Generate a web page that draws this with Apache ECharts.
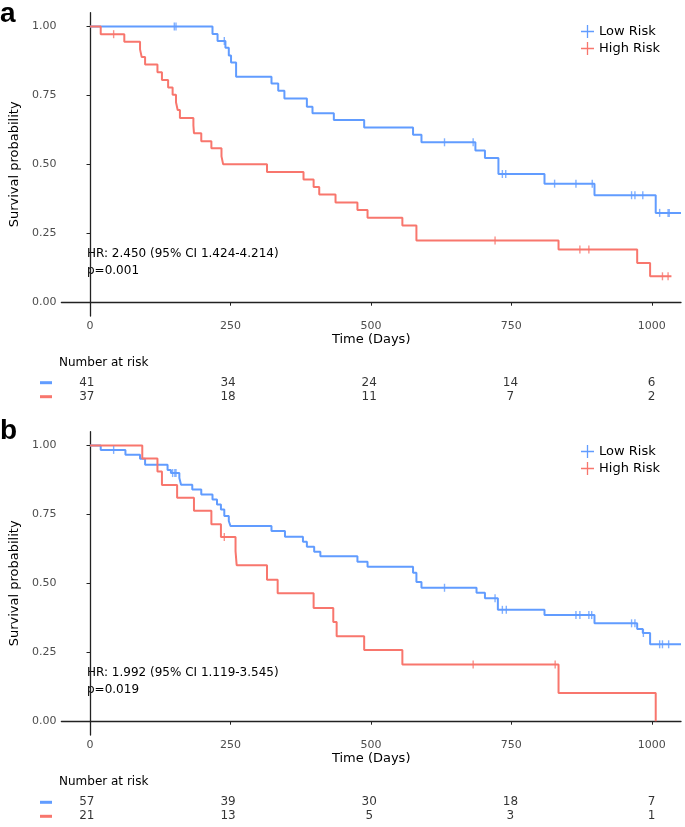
<!DOCTYPE html>
<html>
<head>
<meta charset="utf-8">
<script src="https://cdn.jsdelivr.net/npm/echarts@6/dist/echarts.min.js"></script>
<style>html,body{margin:0;padding:0;background:#fff;}#c{width:685px;height:827px;}</style>
</head>
<body>
<div id="c"></div>
<script>
// ---------- Data ----------
// Panel a
const aLowTime  = [0, 218, 227, 241, 247, 251, 260, 323, 335, 346, 386, 396, 434, 488, 575, 590, 686, 703, 727, 809, 898, 1007, 1052];
const aLowSurv  = [1.0, 0.973, 0.947, 0.923, 0.895, 0.869, 0.818, 0.793, 0.767, 0.739, 0.709, 0.685, 0.661, 0.634, 0.607, 0.580, 0.550, 0.523, 0.465, 0.430, 0.388, 0.324, 0.324];
const aLowCens  = [150, 153, 239, 631, 682, 734, 740, 827, 865, 894, 964, 970, 984, 1014, 1029, 1031];
const aHighTime = [0, 19, 61, 89, 92, 98, 120, 128, 139, 147, 153, 156, 160, 184, 185, 198, 216, 234, 237, 315, 380, 398, 408, 437, 476, 494, 556, 581, 834, 974, 997, 1035];
const aHighSurv = [1.0, 0.972, 0.945, 0.917, 0.889, 0.862, 0.834, 0.806, 0.779, 0.752, 0.725, 0.697, 0.668, 0.641, 0.613, 0.584, 0.558, 0.529, 0.500, 0.472, 0.445, 0.418, 0.391, 0.362, 0.334, 0.306, 0.278, 0.2235, 0.191, 0.142, 0.094, 0.094];
const aHighCens = [42, 721, 872, 888, 1019, 1029];
// Panel b
const bLowTime  = [0, 19, 63, 89, 98, 138, 144, 159, 162, 182, 198, 218, 226, 233, 239, 247, 250, 323, 347, 379, 386, 399, 410, 476, 494, 575, 581, 590, 688, 703, 726, 809, 898, 974, 984, 997, 1052];
const bLowSurv  = [1.0, 0.984, 0.966, 0.952, 0.930, 0.911, 0.900, 0.882, 0.858, 0.840, 0.822, 0.804, 0.786, 0.768, 0.744, 0.726, 0.708, 0.690, 0.669, 0.651, 0.633, 0.615, 0.598, 0.578, 0.560, 0.538, 0.505, 0.484, 0.466, 0.446, 0.404, 0.385, 0.355, 0.334, 0.320, 0.279, 0.279];
const bLowCens  = [42, 147, 151, 153, 631, 721, 734, 741, 865, 872, 888, 893, 964, 970, 985, 1014, 1019, 1030];
const bHighTime = [0, 93, 120, 128, 155, 185, 216, 233, 259, 261, 315, 334, 398, 433, 439, 488, 556, 834, 1007];
const bHighSurv = [1.0, 0.953, 0.906, 0.857, 0.810, 0.763, 0.714, 0.668, 0.617, 0.566, 0.513, 0.464, 0.411, 0.360, 0.308, 0.258, 0.206, 0.102, 0.0];
const bHighCens = [239, 682, 828];
// Number at risk
const riskTimes = [0, 250, 500, 750, 1000];
const aRiskLow  = [41, 34, 24, 14, 6];
const aRiskHigh = [37, 18, 11, 7, 2];
const bRiskLow  = [57, 39, 30, 18, 7];
const bRiskHigh = [21, 13, 5, 3, 1];
const groups = ['Low Risk', 'High Risk'];
const yTicks = [0, 0.25, 0.5, 0.75, 1.0];
const xTicks = [0, 250, 500, 750, 1000];
const hrA = ['HR: 2.450 (95% CI 1.424-4.214)', 'p=0.001'];
const hrB = ['HR: 1.992 (95% CI 1.119-3.545)', 'p=0.019'];

// ---------- Styling ----------
const BLUE = '#619CFF', RED = '#F8766D';
const FONT = 'DejaVu Sans';
const XMIN = -51, XMAX = 1052;

function zip(t, s) { return t.map((v, i) => [v, s[i]]); }
function censPts(cens, t, s) {
  return cens.map(c => { let v = s[0]; for (let i = 0; i < t.length; i++) if (t[i] <= c) v = s[i]; return [c, v]; });
}

const chart = echarts.init(document.getElementById('c'), null, {renderer: 'canvas'});

const mainTop = [12.7, 431.7], mainH = 303.3;
const rtTop = [375.7, 795.3], rtH = 28;

const grids = [], xAxes = [], yAxes = [], series = [], legends = [], graphics = [];
const panels = [
  {low: [aLowTime, aLowSurv, aLowCens], high: [aHighTime, aHighSurv, aHighCens], risk: [aRiskLow, aRiskHigh], hr: hrA, letter: 'a'},
  {low: [bLowTime, bLowSurv, bLowCens], high: [bHighTime, bHighSurv, bHighCens], risk: [bRiskLow, bRiskHigh], hr: hrB, letter: 'b'}
];

panels.forEach((p, k) => {
  const gi = grids.length;
  grids.push({left: 58, right: 4, top: mainTop[k], height: mainH});
  grids.push({left: 58, right: 4, top: rtTop[k], height: rtH});
  xAxes.push({
    type: 'value', gridIndex: gi, min: XMIN, max: XMAX,
    name: 'Time (Days)', nameLocation: 'middle', nameGap: 17,
    nameTextStyle: {fontFamily: FONT, fontSize: 13, color: '#000'},
    axisLine: {show: true, lineStyle: {color: '#222', width: 1.3}},
    axisTick: {show: true, length: 3.5, lineStyle: {color: '#222', width: 1}, customValues: xTicks},
    axisLabel: {show: true, margin: 5, fontFamily: FONT, fontSize: 11, color: '#4D4D4D', customValues: xTicks,
      formatter: v => String(v)},
    splitLine: {show: false}
  });
  xAxes.push({
    type: 'value', gridIndex: gi + 1, min: XMIN, max: XMAX,
    axisLine: {show: false}, axisTick: {show: false}, axisLabel: {show: false}, splitLine: {show: false}
  });
  yAxes.push({
    type: 'value', gridIndex: gi, min: -0.05, max: 1.05,
    name: 'Survival probability', nameLocation: 'middle', nameGap: 27, nameRotate: 90,
    nameTextStyle: {fontFamily: FONT, fontSize: 13, color: '#000'},
    axisLine: {show: true, lineStyle: {color: '#222', width: 1.3}},
    axisTick: {show: true, length: 3.5, lineStyle: {color: '#222', width: 1}, customValues: yTicks},
    axisLabel: {show: true, margin: 5, fontFamily: FONT, fontSize: 11, color: '#4D4D4D', customValues: yTicks,
      formatter: v => v.toFixed(2)},
    splitLine: {show: false}
  });
  yAxes.push({
    type: 'category', gridIndex: gi + 1, data: ['High Risk', 'Low Risk'],
    axisLine: {show: false}, axisTick: {show: false}, splitLine: {show: false},
    axisLabel: {show: true, interval: 0, margin: 6, formatter: v => v === 'Low Risk' ? '{l|}' : '{h|}',
      rich: {l: {width: 12, height: 3, backgroundColor: BLUE}, h: {width: 12, height: 3, backgroundColor: RED}}}
  });
  const defs = [[p.low, BLUE, groups[0]], [p.high, RED, groups[1]]];
  defs.forEach(([d, col, nm]) => {
    series.push({
      type: 'line', name: nm, xAxisIndex: gi, yAxisIndex: gi, step: 'end',
      data: zip(d[0], d[1]), showSymbol: false, symbol: 'none',
      lineStyle: {color: col, width: 2}, itemStyle: {color: col}, animation: false, clip: true, z: 3
    });
    series.push({
      type: 'scatter', name: nm, xAxisIndex: gi, yAxisIndex: gi,
      data: censPts(d[2], d[0], d[1]), symbol: 'rect', symbolSize: [1.4, 8],
      itemStyle: {color: col}, animation: false, z: 4, silent: true
    });
  });
  // risk table
  [[p.risk[0], 'Low Risk'], [p.risk[1], 'High Risk']].forEach(([vals, cat]) => {
    series.push({
      type: 'scatter', xAxisIndex: gi + 1, yAxisIndex: gi + 1, symbolSize: 0,
      data: riskTimes.map((t, i) => [t, cat, vals[i]]),
      label: {show: true, position: 'inside', formatter: q => String(q.value[2]),
        fontFamily: FONT, fontSize: 12, color: '#000'},
      animation: false, silent: true
    });
  });
  legends.push({
    orient: 'vertical', left: 576, top: k === 0 ? 20 : 440, itemWidth: 13, itemHeight: 13, itemGap: 4,
    data: [{name: 'Low Risk', icon: 'path://M0,5.4 H12 V6.6 H0 Z M5.4,0 H6.6 V12 H5.4 Z', itemStyle: {color: BLUE}},
           {name: 'High Risk', icon: 'path://M0,5.4 H12 V6.6 H0 Z M5.4,0 H6.6 V12 H5.4 Z', itemStyle: {color: RED}}],
    textStyle: {fontFamily: FONT, fontSize: 13, color: '#000'}, selectedMode: false
  });
  const base = mainTop[k];
  graphics.push({type: 'text', left: 87, top: base + 233, style: {text: p.hr[0] + '\n' + p.hr[1], font: '12px "DejaVu Sans"', fill: '#000', lineHeight: 17}});
  graphics.push({type: 'text', left: 59, top: rtTop[k] - 19, style: {text: 'Number at risk', font: '12px "DejaVu Sans"', fill: '#000'}});
  graphics.push({type: 'text', left: 0, top: k === 0 ? 0 : 417, style: {text: p.letter, font: 'bold 28px "Liberation Sans"', fill: '#000'}});
});

chart.setOption({
  animation: false,
  backgroundColor: '#fff',
  grid: grids, xAxis: xAxes, yAxis: yAxes, series: series, legend: legends, graphic: graphics
});
</script>
</body>
</html>
